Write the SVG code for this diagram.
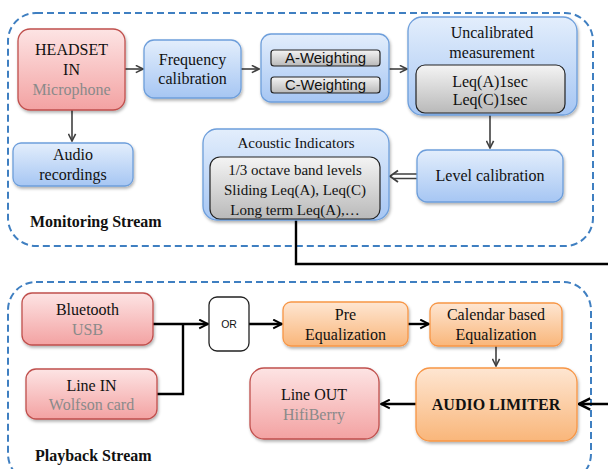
<svg xmlns="http://www.w3.org/2000/svg" width="608" height="469" viewBox="0 0 608 469">
<defs>
<linearGradient id="gBlue" x1="0" y1="0" x2="0" y2="1"><stop offset="0" stop-color="#e3eefc"/><stop offset="1" stop-color="#a6c6f3"/></linearGradient>
<linearGradient id="gRed" x1="0" y1="0" x2="0" y2="1"><stop offset="0" stop-color="#fde4e4"/><stop offset="1" stop-color="#f3a2a2"/></linearGradient>
<linearGradient id="gOrange" x1="0" y1="0" x2="0" y2="1"><stop offset="0" stop-color="#fee6d2"/><stop offset="1" stop-color="#f9b67a"/></linearGradient>
<linearGradient id="gGray" x1="0" y1="0" x2="0" y2="1"><stop offset="0" stop-color="#f4f4f4"/><stop offset="1" stop-color="#b9b9b9"/></linearGradient>
<filter id="sh" x="-10%" y="-10%" width="130%" height="140%"><feDropShadow dx="1" dy="2" stdDeviation="1.5" flood-color="#000" flood-opacity="0.3"/></filter>
<marker id="aThin" viewBox="0 0 10 10" refX="9" refY="5" markerWidth="9" markerHeight="9" markerUnits="userSpaceOnUse" orient="auto"><path d="M1,1 L9,5 L1,9" fill="none" stroke="#404040" stroke-width="1.8"/></marker>
<marker id="aBlk" viewBox="0 0 10 10" refX="9" refY="5" markerWidth="11" markerHeight="11" markerUnits="userSpaceOnUse" orient="auto"><path d="M1,1 L9,5 L1,9" fill="none" stroke="#000" stroke-width="1.8"/></marker>
<marker id="aBig" viewBox="0 0 10 10" refX="9" refY="5" markerWidth="14" markerHeight="14" markerUnits="userSpaceOnUse" orient="auto"><path d="M1,1 L9,5 L1,9" fill="none" stroke="#000" stroke-width="1.8"/></marker>
</defs>
<style>
.t{font-family:"Liberation Serif","Times New Roman",serif;font-size:16px;fill:#111;text-anchor:middle}
.s{font-size:15px}
.g{fill:#8a8a8a}
.b{font-weight:bold}
.sans{font-family:"Liberation Sans",Arial,sans-serif;font-size:14px;fill:#111;text-anchor:middle}
.blue{fill:url(#gBlue);stroke:#6d9edb;stroke-width:1.3;filter:url(#sh)}
.red{fill:url(#gRed);stroke:#c0504d;stroke-width:1.3;filter:url(#sh)}
.orange{fill:url(#gOrange);stroke:#f79646;stroke-width:1.3;filter:url(#sh)}
.gray{fill:url(#gGray);stroke:#222;stroke-width:1.2}
.frame{fill:none;stroke:#3f7fc1;stroke-width:2;stroke-dasharray:7 4}
.c{fill:none;stroke:#404040;stroke-width:1.6}
.k{fill:none;stroke:#000;stroke-width:2.4}
</style>

<g id="frames">
<rect class="frame" x="8" y="13" width="585" height="233" rx="28"/>
<rect class="frame" x="8" y="282" width="583" height="200" rx="28"/>
</g>

<g id="connectors">
<line class="c" x1="125" y1="69" x2="143" y2="69" marker-end="url(#aThin)"/>
<line class="c" x1="241" y1="69" x2="259" y2="69" marker-end="url(#aThin)"/>
<line class="c" x1="389" y1="69" x2="407" y2="69" marker-end="url(#aThin)"/>
<line class="c" x1="72" y1="110" x2="72" y2="141" marker-end="url(#aThin)"/>
<line class="c" x1="490" y1="113" x2="490" y2="148" marker-end="url(#aThin)"/>
<path d="M417,174 H393 M417,178.5 H393" fill="none" stroke="#404040" stroke-width="1.3"/>
<path d="M398,170.5 L390,176.2 L398,182" fill="none" stroke="#404040" stroke-width="1.8"/>
<path class="k" d="M296,219 V264 H610" stroke-width="3"/>
<path class="k" d="M612,404 H579" stroke-width="3" marker-end="url(#aBig)"/>
<line class="k" x1="153" y1="324" x2="208" y2="324" marker-end="url(#aBlk)"/>
<path class="k" d="M157,394 H183 V324"/>
<line class="k" x1="249" y1="324" x2="282" y2="324" marker-end="url(#aBlk)"/>
<line class="k" x1="408" y1="324" x2="429" y2="324" marker-end="url(#aBlk)"/>
<line class="c" x1="496" y1="346" x2="496" y2="366" marker-end="url(#aThin)"/>
<line class="k" x1="416" y1="404" x2="381" y2="404" marker-end="url(#aBlk)"/>
</g>

<g id="headset">
<rect class="red" x="18" y="29" width="107" height="81" rx="12"/>
<text class="t" x="71.5" y="55">HEADSET</text>
<text class="t" x="71.5" y="75">IN</text>
<text class="t g" x="71.5" y="95">Microphone</text>
</g>
<g id="freq">
<rect class="blue" x="144" y="40" width="97" height="58" rx="10"/>
<text class="t" x="192.5" y="65">Frequency</text>
<text class="t" x="192.5" y="84">calibration</text>
</g>
<g id="weighting">
<rect class="blue" x="261" y="34" width="128" height="68" rx="10"/>
<rect class="gray" x="271" y="50" width="109" height="16" rx="3"/>
<text class="sans" x="325.5" y="63" textLength="81" lengthAdjust="spacingAndGlyphs">A-Weighting</text>
<rect class="gray" x="271" y="77" width="109" height="16" rx="3"/>
<text class="sans" x="325.5" y="90" textLength="81" lengthAdjust="spacingAndGlyphs">C-Weighting</text>
</g>
<g id="uncal">
<rect class="blue" x="408" y="17" width="169" height="98" rx="14"/>
<text class="t" x="492" y="38">Uncalibrated</text>
<text class="t" x="492" y="58">measurement</text>
<rect class="gray" x="416" y="65" width="149" height="48" rx="9"/>
<text class="t" x="490" y="87">Leq(A)1sec</text>
<text class="t" x="490" y="105">Leq(C)1sec</text>
</g>
<g id="audio">
<rect class="blue" x="13" y="143" width="120" height="43" rx="8"/>
<text class="t" x="73" y="160">Audio</text>
<text class="t" x="73" y="180">recordings</text>
</g>
<g id="level">
<rect class="blue" x="417" y="150" width="146" height="52" rx="10"/>
<text class="t" x="490" y="181">Level calibration</text>
</g>
<g id="acoustic">
<rect class="blue" x="203" y="129" width="186" height="91" rx="14"/>
<text class="t s" x="296" y="148">Acoustic Indicators</text>
<rect class="gray" x="210" y="157" width="170" height="62" rx="10"/>
<text class="t s" x="295" y="175">1/3 octave band levels</text>
<text class="t s" x="295" y="195">Sliding Leq(A), Leq(C)</text>
<text class="t s" x="295" y="215">Long term Leq(A),…</text>
</g>
<text class="t b" x="30" y="227" style="text-anchor:start;font-size:16px">Monitoring Stream</text>

<g id="bluetooth">
<rect class="red" x="22" y="293" width="131" height="52" rx="10"/>
<text class="t" x="87.5" y="315">Bluetooth</text>
<text class="t g" x="87.5" y="335">USB</text>
</g>
<g id="linein">
<rect class="red" x="26" y="369" width="131" height="50" rx="10"/>
<text class="t" x="91.5" y="391">Line IN</text>
<text class="t g" x="91.5" y="410">Wolfson card</text>
</g>
<g id="or">
<rect x="209" y="297" width="40" height="54" rx="8" fill="#fff" stroke="#222" stroke-width="1.3"/>
<text class="sans" x="229" y="328" style="font-size:10.5px">OR</text>
</g>
<g id="preeq">
<rect class="orange" x="283" y="302" width="125" height="44" rx="8"/>
<text class="t" x="345.5" y="320">Pre</text>
<text class="t" x="345.5" y="340">Equalization</text>
</g>
<g id="caleq">
<rect class="orange" x="430" y="303" width="132" height="43" rx="8"/>
<text class="t" x="496" y="320">Calendar based</text>
<text class="t" x="496" y="340">Equalization</text>
</g>
<g id="limiter">
<rect class="orange" x="416" y="368" width="161" height="73" rx="14"/>
<text class="t b" x="496" y="410">AUDIO LIMITER</text>
</g>
<g id="lineout">
<rect class="red" x="250" y="368" width="129" height="71" rx="14"/>
<text class="t" x="314" y="400">Line OUT</text>
<text class="t g" x="314" y="420">HifiBerry</text>
</g>
<text class="t b" x="35" y="461" style="text-anchor:start;font-size:16px">Playback Stream</text>
</svg>
